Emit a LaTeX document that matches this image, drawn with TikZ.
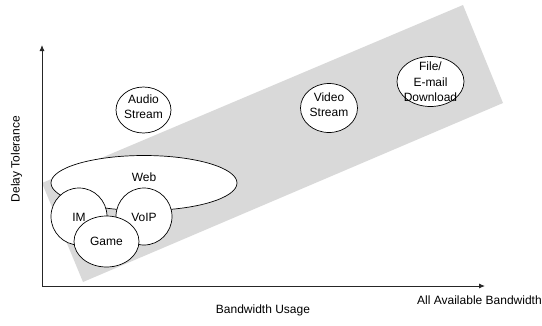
\documentclass[tikz,border=0pt]{standalone}
\usepackage{fontspec}
\setmainfont{Liberation Sans}
\usetikzlibrary{arrows.meta,shapes.geometric}
\begin{document}
\begin{tikzpicture}[x=1pt,y=-1pt,
  bubble/.style={draw=black, fill=white, line width=0.7pt, ellipse, inner sep=0pt},
  axis/.style={line width=0.9pt, draw=black!85, -{Latex[length=6pt,width=5pt]}},
  lbl/.style={font=\fontsize{12}{15}\selectfont, inner sep=0pt, align=center}]
\useasboundingbox (0,0) rectangle (542,325);
\clip (0,0) rectangle (542,325);
% shaded band of typical applications
\fill[black!15] (42,183) -- (463,5) -- (503,103) -- (83,282) -- cycle;
% axes
\coordinate (o) at (42,286);
\coordinate (ytop) at (42,45);
\coordinate (xend) at (485,286);
\draw[axis] (o) -- (ytop);
\draw[axis] (o) -- (xend);
% application bubbles
\node[bubble, minimum width=55pt, minimum height=46pt] (audio) at (143.5,110) {};
\node[lbl] (audiot) at (143.5,106.5) {Audio\\Stream};
\node[bubble, minimum width=57pt, minimum height=49pt] (video) at (329,108) {};
\node[lbl] (videot) at (329,105) {Video\\Stream};
\node[bubble, minimum width=67pt, minimum height=50pt] (file) at (430.5,81.5) {};
\node[lbl, font=\fontsize{12}{15.5}\selectfont] (filet) at (430.5,82) {File/\\E-mail\\Download};
\node[bubble, minimum width=186pt, minimum height=55pt] (web) at (144,183) {};
\node[lbl] (webt) at (144,177) {Web};
\node[bubble, minimum width=56pt, minimum height=57pt] (im) at (79,216.5) {};
\node[lbl] (imt) at (79,217) {IM};
\node[bubble, minimum width=56pt, minimum height=57pt] (voip) at (144,216.5) {};
\node[lbl] (voipt) at (144,217) {VoIP};
\node[bubble, minimum width=65pt, minimum height=51pt] (game) at (106.5,241.5) {};
\node[lbl] (gamet) at (106.5,241.5) {Game};
% axis labels
\node[lbl, rotate=90] (ylab) at (16.5,159) {Delay Tolerance};
\node[lbl] (xlab) at (263,310) {Bandwidth Usage};
\node[lbl, anchor=west] (xmax) at (417,300) {All Available Bandwidth};
\end{tikzpicture}
\end{document}
